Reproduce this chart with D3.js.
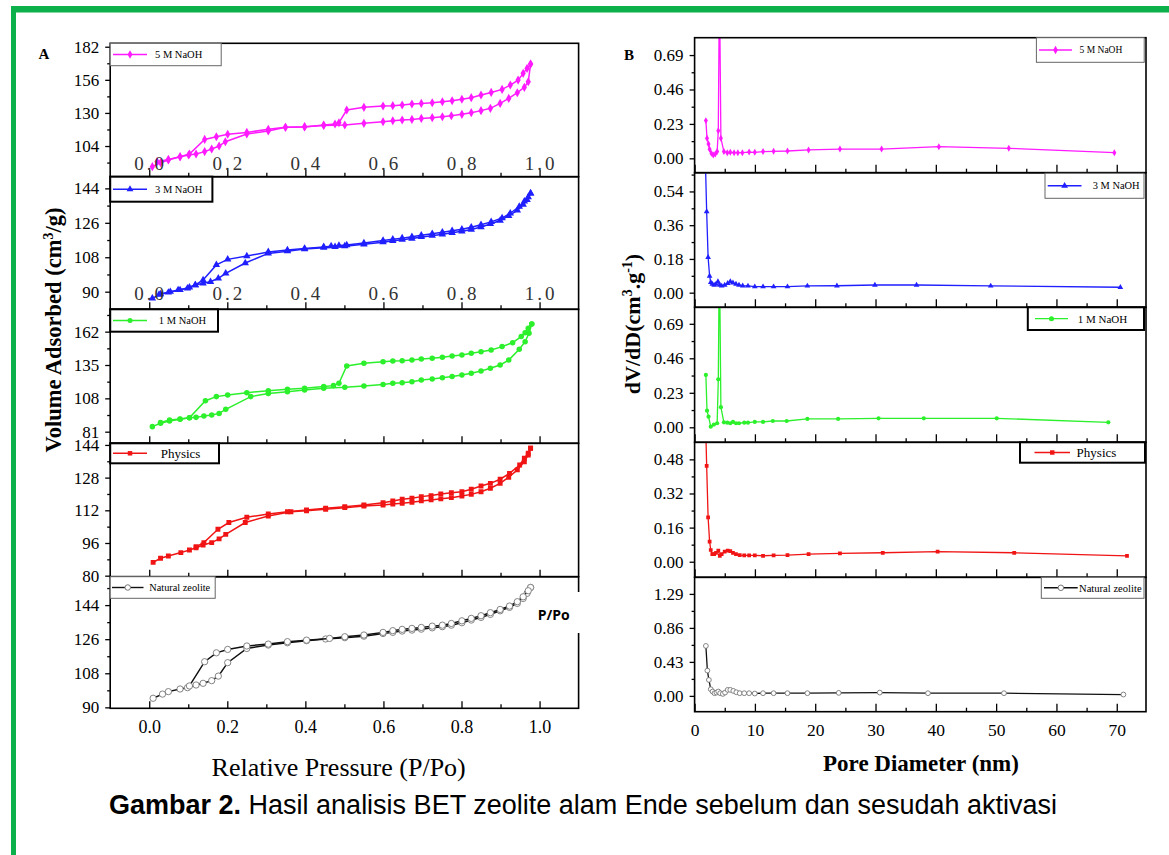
<!DOCTYPE html>
<html>
<head>
<meta charset="utf-8">
<script src="https://cdn.jsdelivr.net/npm/d3@7/dist/d3.min.js"></script>
<style>
  body { margin: 0; background: #fff; }
  text { font-family: "Liberation Serif", "Times New Roman", serif; fill: #000; }
</style>
</head>
<body>
<svg id="fig" width="1169" height="855"></svg>
<script>
// samples, top to bottom
var samples = ["5 M NaOH", "3 M NaOH", "1 M NaOH", "Physics", "Natural zeolite"];
var colors = ["#ff1aff", "#1f1fff", "#2bf02b", "#f01414", "#111111"];

// A: N2 isotherms, [P/Po, volume adsorbed]
var ads5M = [[0.008,87.8],[0.029,90.9],[0.049,93.0],[0.079,95.6],[0.101,96.9],[0.12,97.7],[0.142,99.6],[0.16,101.7],[0.179,104.0],[0.195,107.4],[0.25,113.4],[0.305,115.8],[0.349,118.7],[0.398,119.2],[0.447,120.2],[0.501,120.5],[0.55,121.8],[0.599,123.1],[0.624,123.9],[0.648,124.4],[0.673,124.9],[0.697,125.7],[0.725,126.3],[0.751,127.0],[0.774,127.8],[0.801,128.9],[0.825,130.2],[0.85,131.8],[0.874,133.6],[0.899,137.5],[0.921,141.4],[0.943,145.9],[0.961,150.1],[0.971,154.5],[0.977,168.4]];
var des5M = [[0.977,168.4],[0.968,165.0],[0.958,161.1],[0.945,155.8],[0.925,151.9],[0.904,148.5],[0.876,146.1],[0.85,144.1],[0.825,142.0],[0.801,140.7],[0.776,139.6],[0.751,138.8],[0.725,138.0],[0.697,137.5],[0.673,137.0],[0.648,136.2],[0.624,135.7],[0.599,135.4],[0.55,134.4],[0.506,132.3],[0.486,122.3],[0.476,121.3],[0.447,120.5],[0.398,119.0],[0.349,118.7],[0.305,117.1],[0.25,114.7],[0.201,113.2],[0.172,111.3],[0.142,109.2],[0.103,97.7],[0.079,95.6],[0.049,93.5],[0.02,91.7]];
var ads3M = [[0.008,86.5],[0.029,88.8],[0.054,90.0],[0.079,90.9],[0.103,92.3],[0.118,93.5],[0.138,94.4],[0.157,95.2],[0.177,97.0],[0.196,99.6],[0.246,105.0],[0.305,110.0],[0.354,111.2],[0.398,112.3],[0.447,113.0],[0.476,113.4],[0.501,113.8],[0.55,114.8],[0.599,115.9],[0.624,116.6],[0.648,117.2],[0.673,117.8],[0.697,118.6],[0.725,119.3],[0.751,120.0],[0.776,120.8],[0.801,121.6],[0.825,122.5],[0.85,123.8],[0.874,125.4],[0.899,127.2],[0.921,129.6],[0.943,132.5],[0.958,135.5],[0.968,138.0],[0.977,141.4]];
var des3M = [[0.977,141.4],[0.971,139.5],[0.961,137.2],[0.948,134.5],[0.925,131.0],[0.904,128.5],[0.876,126.5],[0.85,125.0],[0.825,123.7],[0.801,122.6],[0.776,121.8],[0.751,121.1],[0.725,120.3],[0.697,119.5],[0.673,118.7],[0.648,118.0],[0.624,117.4],[0.599,116.7],[0.55,115.4],[0.506,114.4],[0.486,114.1],[0.466,113.8],[0.447,113.4],[0.398,112.6],[0.354,111.8],[0.305,110.8],[0.25,108.6],[0.201,106.9],[0.172,104.0],[0.138,96.1],[0.118,93.5],[0.098,91.8],[0.074,90.9],[0.049,89.6],[0.025,88.5]];
var ads1M = [[0.008,85.1],[0.029,87.8],[0.052,89.6],[0.079,91.0],[0.103,92.3],[0.12,92.6],[0.14,93.7],[0.16,94.5],[0.179,95.8],[0.196,99.1],[0.26,109.4],[0.305,112.0],[0.354,113.4],[0.398,114.8],[0.447,116.1],[0.501,116.9],[0.55,118.0],[0.599,119.3],[0.624,120.2],[0.648,120.7],[0.673,121.5],[0.697,122.9],[0.725,123.7],[0.751,124.7],[0.776,125.6],[0.801,126.9],[0.825,128.3],[0.85,130.1],[0.874,132.3],[0.899,135.0],[0.921,139.0],[0.948,147.7],[0.963,153.9],[0.973,160.7],[0.98,168.2]];
var des1M = [[0.98,168.2],[0.971,164.7],[0.963,161.2],[0.953,158.0],[0.931,153.1],[0.904,149.9],[0.876,147.2],[0.85,145.8],[0.825,144.5],[0.801,143.1],[0.776,142.3],[0.751,141.2],[0.725,140.4],[0.697,139.9],[0.673,139.0],[0.648,138.5],[0.624,138.2],[0.599,137.7],[0.55,136.4],[0.506,134.2],[0.486,120.2],[0.472,118.3],[0.447,117.5],[0.398,116.1],[0.354,115.3],[0.305,114.2],[0.25,112.6],[0.201,110.7],[0.172,109.4],[0.144,106.1],[0.103,92.3],[0.079,91.3],[0.052,90.5],[0.029,88.5]];
var adsPh = [[0.01,86.5],[0.029,88.5],[0.049,89.6],[0.081,91.3],[0.103,92.6],[0.12,93.7],[0.138,95.0],[0.16,96.2],[0.179,98.0],[0.196,100.2],[0.246,106.0],[0.305,109.2],[0.363,111.3],[0.403,111.8],[0.452,112.5],[0.501,113.3],[0.55,114.1],[0.599,114.6],[0.624,115.1],[0.648,115.4],[0.673,115.9],[0.697,116.6],[0.722,117.1],[0.747,117.6],[0.774,118.2],[0.801,119.0],[0.825,119.8],[0.85,121.1],[0.874,122.8],[0.899,125.2],[0.921,128.2],[0.943,131.8],[0.961,135.8],[0.971,139.1],[0.977,142.4]];
var desPh = [[0.977,142.4],[0.971,139.9],[0.961,137.5],[0.949,134.2],[0.923,130.1],[0.899,127.2],[0.874,125.2],[0.85,123.9],[0.825,122.3],[0.801,121.1],[0.774,120.6],[0.747,120.0],[0.722,119.2],[0.697,118.7],[0.673,117.9],[0.648,117.4],[0.624,116.6],[0.599,115.7],[0.55,114.6],[0.501,113.8],[0.452,113.0],[0.403,112.2],[0.354,111.3],[0.305,110.2],[0.25,108.6],[0.204,106.0],[0.176,102.7],[0.14,96.2],[0.12,94.2]];
var adsNat = [[0.01,94.8],[0.034,97.0],[0.049,98.3],[0.079,99.7],[0.098,100.4],[0.12,101.8],[0.138,102.7],[0.16,104.1],[0.177,106.5],[0.201,113.6],[0.25,121.1],[0.305,122.9],[0.354,124.1],[0.403,125.2],[0.452,126.1],[0.501,126.8],[0.55,127.6],[0.599,129.0],[0.624,129.6],[0.648,130.3],[0.673,130.8],[0.697,131.3],[0.725,132.0],[0.751,132.6],[0.774,133.4],[0.801,134.7],[0.825,136.1],[0.85,137.5],[0.874,139.1],[0.899,141.0],[0.923,142.8],[0.943,144.9],[0.958,147.5],[0.968,150.2],[0.977,153.3]];
var desNat = [[0.977,153.3],[0.971,151.6],[0.958,148.4],[0.943,145.8],[0.923,143.5],[0.899,141.7],[0.874,140.0],[0.85,138.4],[0.825,137.0],[0.801,135.7],[0.774,134.3],[0.751,133.4],[0.725,132.9],[0.697,132.2],[0.673,131.7],[0.648,131.2],[0.624,130.5],[0.599,129.6],[0.55,128.2],[0.501,127.3],[0.462,126.4],[0.403,125.5],[0.354,124.7],[0.305,123.4],[0.25,122.4],[0.201,120.6],[0.172,118.8],[0.142,114.1],[0.103,101.3]];

var isoAds = [ads5M, ads3M, ads1M, adsPh, adsNat];
var isoDes = [des5M, des3M, des1M, desPh, desNat];
var isoDomain = [[79.9,184.7],[80.8,150.1],[71.6,180.1],[79.5,144.8],[89.5,159]];
var isoTicks = [[104,130,156,182],[90,108,126,144],[81,108,135,162],[80,96,112,128,144],[90,108,126,144]];
var isoStep = [26,18,27,16,18];
var pTicks = [0,0.2,0.4,0.6,0.8,1.0];
var pMinor = [0.1,0.3,0.5,0.7,0.9];

// B: pore size distribution, [pore diameter nm, dV/dD]
var psd5M = [[1.87,0.252],[2.06,0.134],[2.31,0.096],[2.49,0.06],[2.8,0.033],[3.1,0.022],[3.43,0.029],[3.74,0.045],[3.93,0.185],[4.12,1.2],[4.36,0.134],[4.86,0.045],[5.42,0.038],[5.92,0.04],[6.55,0.038],[7.17,0.038],[7.92,0.038],[9.04,0.042],[9.98,0.04],[11.35,0.045],[13.1,0.047],[15.4,0.049],[18.9,0.056],[24.1,0.062],[31,0.062],[40.5,0.078],[52.1,0.067],[69.6,0.038]];
var psd3M = [[1.75,0.75],[2.0,0.433],[2.24,0.189],[2.49,0.089],[2.68,0.055],[2.93,0.046],[3.24,0.041],[3.55,0.046],[3.87,0.059],[4.18,0.041],[4.49,0.036],[4.99,0.041],[5.49,0.05],[5.92,0.059],[6.36,0.053],[6.86,0.046],[7.36,0.041],[7.98,0.037],[8.85,0.036],[9.98,0.032],[11.35,0.032],[13.1,0.032],[15.4,0.032],[18.7,0.036],[23.6,0.037],[29.9,0.041],[36.8,0.041],[49.1,0.036],[70.6,0.029]];
var psd1M = [[1.87,0.349],[2.06,0.111],[2.31,0.071],[2.68,0.004],[3.2,0.018],[3.74,0.027],[3.93,0.32],[4.11,1.2],[4.36,0.134],[4.86,0.033],[5.42,0.031],[5.92,0.027],[6.36,0.036],[6.86,0.027],[7.36,0.027],[8.23,0.031],[8.85,0.031],[9.98,0.036],[11.35,0.036],[12.97,0.042],[15.27,0.042],[18.7,0.056],[23.8,0.056],[30.5,0.06],[38,0.06],[50.1,0.06],[68.6,0.033]];
var psdPh = [[1.85,0.62],[2.0,0.449],[2.24,0.208],[2.49,0.094],[2.68,0.055],[2.93,0.036],[3.24,0.036],[3.55,0.042],[3.93,0.052],[4.18,0.027],[4.49,0.036],[4.99,0.047],[5.49,0.052],[5.92,0.05],[6.36,0.042],[6.86,0.036],[7.48,0.031],[8.23,0.03],[9.04,0.03],[9.98,0.03],[11.35,0.028],[13.1,0.03],[15.4,0.031],[18.9,0.036],[24.1,0.039],[31.2,0.042],[40.3,0.047],[53,0.042],[71.7,0.027]];
var psdNat = [[1.87,0.632],[2.12,0.32],[2.37,0.202],[2.68,0.084],[2.99,0.055],[3.3,0.034],[3.62,0.042],[3.93,0.055],[4.24,0.034],[4.68,0.025],[5.05,0.042],[5.49,0.076],[5.92,0.076],[6.42,0.063],[6.92,0.046],[7.48,0.034],[8.23,0.034],[9.04,0.034],[9.98,0.03],[11.35,0.034],[13.1,0.034],[15.4,0.034],[18.7,0.034],[23.9,0.038],[30.7,0.042],[38.7,0.034],[51.3,0.034],[71.1,0.017]];

var psdData = [psd5M, psd3M, psd1M, psdPh, psdNat];
var psdDomain = [[-0.096,0.806],[-0.078,0.64],[-0.1,0.8],[-0.073,0.56],[-0.2,1.5]];
var psdTicks = [[0,0.23,0.46,0.69],[0,0.18,0.36,0.54],[0,0.23,0.46,0.69],[0,0.16,0.32,0.48],[0,0.43,0.86,1.29]];
var dTicks = [0,10,20,30,40,50,60,70];
var dMinor = [5,15,25,35,45,55,65];

var svg = d3.select("#fig");
var defs = svg.append("defs");
var green = "#0db14b";

// page frame (green rule top and left)
svg.append("rect").attr("x", 11).attr("y", 6).attr("width", 1158).attr("height", 6.5).attr("fill", green);
svg.append("rect").attr("x", 11).attr("y", 6).attr("width", 5).attr("height", 849).attr("fill", green);

var isoX = d3.scaleLinear().domain([-0.1, 1.1]).range([110.2, 578.6]);
var psdX = d3.scaleLinear().domain([0, 74.85]).range([694.6, 1146]);
var isoRows = [43.3, 176.7, 309.3, 443.3, 576.7, 708.3];
var psdRows = [37.7, 172.7, 307.3, 442.3, 577.3, 711.7];
var symbols = [d3.symbolDiamond, d3.symbolTriangle, d3.symbolCircle, d3.symbolSquare, d3.symbolCircle];

function minors(ticks, step, dom) {
  var m = ticks.map(function(t) { return t - step / 2; });
  m.push(ticks[ticks.length - 1] + step / 2);
  return m.filter(function(v) { return v > dom[0] + step * 0.05 && v < dom[1] - step * 0.05; });
}

function series(g, x, y, pts, i, size, clip, lw) {
  var line = d3.line().x(function(d) { return x(d[0]); }).y(function(d) { return y(d[1]); });
  var c = g.append("g").attr("clip-path", "url(#" + clip + ")");
  c.append("path").attr("d", line(pts))
    .attr("fill", "none").attr("stroke", colors[i]).attr("stroke-width", lw);
  c.selectAll(".m").data(pts).enter().append("path")
    .attr("transform", function(d) { return "translate(" + x(d[0]) + "," + y(d[1]) + ")"; })
    .attr("d", d3.symbol().type(symbols[i]).size(i == 4 ? size * 1.3 : size))
    .attr("fill", i == 4 ? "#fff" : colors[i])
    .attr("stroke", i == 4 ? "#777" : "none")
    .attr("stroke-width", 0.9);
}

function legend(g, i, b, lx0, lx1, tx, fs, heavy) {
  var cy = b[1] + b[3] / 2;
  g.append("rect").attr("x", b[0]).attr("y", b[1]).attr("width", b[2]).attr("height", b[3])
    .attr("fill", "#fff").attr("stroke", heavy ? "#000" : "#666").attr("stroke-width", heavy ? 2 : 1);
  g.append("line").attr("x1", lx0).attr("x2", lx1).attr("y1", cy).attr("y2", cy)
    .attr("stroke", colors[i]).attr("stroke-width", 1.4);
  g.append("path").attr("transform", "translate(" + (lx0 + lx1) / 2 + "," + cy + ")")
    .attr("d", d3.symbol().type(symbols[i]).size(i == 4 ? 24 : 20))
    .attr("fill", i == 4 ? "#fff" : colors[i]).attr("stroke", i == 4 ? "#777" : "none");
  g.append("text").attr("x", tx).attr("y", cy).attr("dy", "0.35em")
    .style("font-size", fs + "px").text(samples[i]);
}

function styleAxis(a, fs) {
  a.select(".domain").remove();
  a.selectAll("line").attr("stroke", "#000").attr("stroke-width", 1.3);
  a.selectAll("text").style("font-size", fs + "px").style("font-family", "Liberation Serif");
}

var isoLeg = [
  [[110.2, 43.3, 111, 22.4], 113, 147, 155, 10.5, false],
  [[110.2, 176.7, 102.2, 25], 113, 147, 155, 10.5, true],
  [[110.2, 309.3, 107.8, 22.4], 113, 147, 158.8, 10.5, true],
  [[110.2, 443.3, 108.8, 20], 113, 147, 160.7, 13, true],
  [[110.2, 576.7, 105, 21.6], 112, 143.5, 149.3, 10.3, false]
];
var psdLeg = [
  [[1036.4, 37.7, 107.8, 24.6], 1039, 1072, 1079.6, 9.5, false],
  [[1045, 173.3, 99, 25], 1047.7, 1081.5, 1092.8, 10.4, false],
  [[1027.8, 307.3, 116.2, 22.7], 1035, 1068, 1077.7, 11, true],
  [[1020, 442.3, 125, 20.4], 1034.5, 1070, 1076.6, 13, true],
  [[1041.3, 577.3, 102.7, 21], 1044, 1077.7, 1079, 10.6, false]
];

// ---- panel A ----
var gA = svg.append("g");
samples.forEach(function(s, i) {
  var top = isoRows[i], bot = isoRows[i + 1];
  var y = d3.scaleLinear().domain(isoDomain[i]).range([bot, top]);
  var id = "clipA" + i;
  defs.append("clipPath").attr("id", id).append("rect")
    .attr("x", isoX.range()[0]).attr("y", top).attr("width", isoX.range()[1] - isoX.range()[0]).attr("height", bot - top);

  series(gA, isoX, y, isoAds[i], i, 24, id, 1.5);
  series(gA, isoX, y, isoDes[i], i, 24, id, 1.5);

  var ya = gA.append("g").attr("transform", "translate(" + isoX.range()[0] + ",0)")
    .call(d3.axisLeft(y).tickValues(isoTicks[i]).tickSize(5).tickPadding(6).tickFormat(d3.format("d")));
  styleAxis(ya, 17);
  var ym = gA.append("g").attr("transform", "translate(" + isoX.range()[0] + ",0)")
    .call(d3.axisLeft(y).tickValues(minors(isoTicks[i], isoStep[i], isoDomain[i])).tickSize(3).tickFormat(""));
  styleAxis(ym, 10);

  var xm = gA.append("g").attr("transform", "translate(0," + bot + ")")
    .call(d3.axisTop(isoX).tickValues(pMinor).tickSize(4).tickFormat(""));
  styleAxis(xm, 10);
  if (i < 4) {
    var xa = gA.append("g").attr("transform", "translate(0," + bot + ")")
      .call(d3.axisTop(isoX).tickValues(pTicks).tickSize(7).tickFormat(""));
    styleAxis(xa, 10);
  } else {
    var xb = gA.append("g").attr("transform", "translate(0," + bot + ")")
      .call(d3.axisBottom(isoX).tickValues(pTicks).tickSizeInner(-7).tickSizeOuter(0).tickPadding(12).tickFormat(d3.format(".1f")));
    styleAxis(xb, 18);
  }

  gA.append("rect").attr("x", isoX.range()[0]).attr("y", top)
    .attr("width", isoX.range()[1] - isoX.range()[0]).attr("height", bot - top)
    .attr("fill", "none").attr("stroke", "#000").attr("stroke-width", 1.6);

  var L = isoLeg[i];
  legend(gA, i, L[0], L[1], L[2], L[3], L[4], L[5]);

  // the two upper panels carry a second row of P/Po labels inside the plot
  if (i < 2) {
    gA.append("g").selectAll("text").data(pTicks).enter().append("text")
      .attr("x", function(d) { return isoX(d) + 1.5; })
      .attr("y", bot - (i == 0 ? 13.4 : 16))
      .attr("dy", "0.35em").attr("text-anchor", "middle")
      .style("font-size", "19px").style("letter-spacing", "3px").style("fill", "#333")
      .text(d3.format(".1f"));
  }
});

// P/Po tag over the lowest isotherm frame
gA.append("rect").attr("x", 533).attr("y", 592).attr("width", 48).attr("height", 41).attr("fill", "#fff");
gA.append("text").attr("x", 537.7).attr("y", 615).attr("dy", "0.35em")
  .style("font-family", "Open Sans").style("font-weight", 700).style("font-size", "14px").text("P/Po");

gA.append("text").attr("x", 44).attr("y", 53.3).attr("dy", "0.35em").attr("text-anchor", "middle")
  .style("font-weight", 700).style("font-size", "15px").text("A");

gA.append("text").attr("x", 338.7).attr("y", 766.7).attr("dy", "0.35em").attr("text-anchor", "middle")
  .style("font-size", "26px").text("Relative Pressure (P/Po)");

var tA = gA.append("text").attr("transform", "translate(53,330) rotate(-90)")
  .attr("dy", "0.35em").attr("text-anchor", "middle")
  .style("font-weight", 700).style("font-size", "22.5px");
tA.append("tspan").text("Volume Adsorbed (cm");
tA.append("tspan").attr("dy", -8).style("font-size", "14px").text("3");
tA.append("tspan").attr("dy", 8).text("/g)");

// ---- panel B ----
var gB = svg.append("g");
samples.forEach(function(s, i) {
  var top = psdRows[i], bot = psdRows[i + 1];
  var y = d3.scaleLinear().domain(psdDomain[i]).range([bot, top]);
  var id = "clipB" + i;
  defs.append("clipPath").attr("id", id).append("rect")
    .attr("x", psdX.range()[0]).attr("y", top).attr("width", psdX.range()[1] - psdX.range()[0]).attr("height", bot - top);

  series(gB, psdX, y, psdData[i], i, 14, id, 1.3);

  var t = psdTicks[i];
  var ya = gB.append("g").attr("transform", "translate(" + psdX.range()[0] + ",0)")
    .call(d3.axisLeft(y).tickValues(t).tickSize(5).tickPadding(6).tickFormat(d3.format(".2f")));
  styleAxis(ya, 17);
  var ym = gB.append("g").attr("transform", "translate(" + psdX.range()[0] + ",0)")
    .call(d3.axisLeft(y).tickValues(minors(t, t[1] - t[0], psdDomain[i])).tickSize(3).tickFormat(""));
  styleAxis(ym, 10);

  var xm = gB.append("g").attr("transform", "translate(0," + bot + ")")
    .call(d3.axisTop(psdX).tickValues(dMinor).tickSize(4).tickFormat(""));
  styleAxis(xm, 10);
  if (i < 4) {
    var xa = gB.append("g").attr("transform", "translate(0," + bot + ")")
      .call(d3.axisTop(psdX).tickValues(dTicks).tickSize(8).tickFormat(""));
    styleAxis(xa, 10);
  } else {
    var xb = gB.append("g").attr("transform", "translate(0," + bot + ")")
      .call(d3.axisBottom(psdX).tickValues(dTicks).tickSizeInner(-8).tickSizeOuter(0).tickPadding(12).tickFormat(d3.format("d")));
    styleAxis(xb, 17.5);
  }

  gB.append("rect").attr("x", psdX.range()[0]).attr("y", top)
    .attr("width", psdX.range()[1] - psdX.range()[0]).attr("height", bot - top)
    .attr("fill", "none").attr("stroke", "#000").attr("stroke-width", 1.6);

  var L = psdLeg[i];
  legend(gB, i, L[0], L[1], L[2], L[3], L[4], L[5]);
});

gB.append("text").attr("x", 629).attr("y", 55).attr("dy", "0.35em").attr("text-anchor", "middle")
  .style("font-weight", 700).style("font-size", "15px").text("B");

gB.append("text").attr("x", 921).attr("y", 763).attr("dy", "0.35em").attr("text-anchor", "middle")
  .style("font-weight", 700).style("font-size", "23px").text("Pore Diameter (nm)");

var tB = gB.append("text").attr("transform", "translate(632,324) rotate(-90)")
  .attr("dy", "0.35em").attr("text-anchor", "middle")
  .style("font-weight", 700).style("font-size", "22px");
tB.append("tspan").text("dV/dD(cm");
tB.append("tspan").attr("dy", -8).style("font-size", "14px").text("3");
tB.append("tspan").attr("dy", 8).text(".g");
tB.append("tspan").attr("dy", -8).style("font-size", "14px").text("-1");
tB.append("tspan").attr("dy", 8).text(")");

// caption
var cap = svg.append("text").attr("x", 583).attr("y", 805).attr("dy", "0.35em").attr("text-anchor", "middle")
  .style("font-family", "Liberation Sans, Arial, sans-serif").style("font-size", "27px");
cap.append("tspan").style("font-weight", 700).text("Gambar 2.");
cap.append("tspan").text(" Hasil analisis BET zeolite alam Ende sebelum dan sesudah aktivasi");
</script>
</body>
</html>
